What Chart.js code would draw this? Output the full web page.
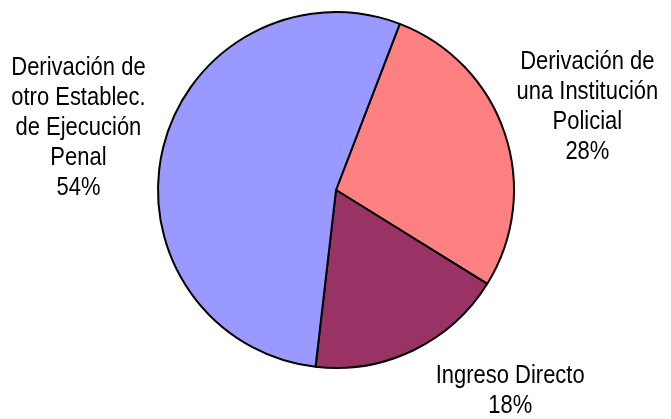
<!DOCTYPE html>
<html><head><meta charset="utf-8">
<script src="https://cdn.jsdelivr.net/npm/chart.js@4"></script>
<style>html,body{margin:0;padding:0;background:#fff}#wrap{width:671px;height:419px;position:relative}</style>
</head><body><div id="wrap"><canvas id="c"></canvas></div>
<script>
const categories = [
  ["Derivación de", "una Institución", "Policial"],
  ["Ingreso Directo"],
  ["Derivación de", "otro Establec.", "de Ejecución", "Penal"]
];
const values = [28, 18, 54];
const colors = ["#FF8080", "#993366", "#9999FF"];

const labelPlugin = {
  id: 'outLabels',
  afterDatasetsDraw(chart) {
    const ctx = chart.ctx;
    const meta = chart.getDatasetMeta(0);
    const total = values.reduce((a, b) => a + b, 0);
    const fs = 26, lh = 30, sx = 0.845;
    ctx.save();
    ctx.font = fs + 'px "Liberation Sans", Arial, sans-serif';
    ctx.fillStyle = '#000';
    ctx.textAlign = 'center';
    ctx.textBaseline = 'middle';
    meta.data.forEach((arc, i) => {
      const p = arc.getProps(['x', 'y', 'startAngle', 'endAngle', 'outerRadius'], true);
      const mid = (p.startAngle + p.endAngle) / 2;
      const D = p.outerRadius * 1.49;
      const lines = categories[i].concat([Math.round(values[i] / total * 100) + '%']);
      const h = lines.length * lh;
      let cx = p.x + Math.cos(mid) * D;
      let cy = p.y + Math.sin(mid) * D;
      const maxY = chart.height - h / 2 + 1;
      const minY = h / 2;
      if (cy > maxY || cy < minY) {
        cy = Math.min(Math.max(cy, minY), maxY);
        const dy = cy - p.y;
        const dx = Math.sqrt(Math.max(D * D - dy * dy, 0));
        cx = p.x + Math.sign(Math.cos(mid)) * dx;
      }
      lines.forEach((t, k) => {
        ctx.save();
        ctx.translate(cx, cy - h / 2 + lh / 2 + k * lh + 1);
        ctx.scale(sx, 1);
        ctx.fillText(t, 0, 0);
        ctx.restore();
      });
    });
    ctx.restore();
  }
};

new Chart(document.getElementById('c'), {
  type: 'pie',
  data: {
    labels: categories.map(c => c.join(' ')),
    datasets: [{
      data: values,
      backgroundColor: colors,
      borderColor: '#000',
      borderWidth: 2,
      borderAlign: 'center'
    }]
  },
  options: {
    responsive: true,
    maintainAspectRatio: false,
    animation: false,
    rotation: 21,
    layout: { padding: { top: 11, bottom: 50, left: 157, right: 156 } },
    plugins: { legend: { display: false }, tooltip: { enabled: false } }
  },
  plugins: [labelPlugin]
});
</script></body></html>
